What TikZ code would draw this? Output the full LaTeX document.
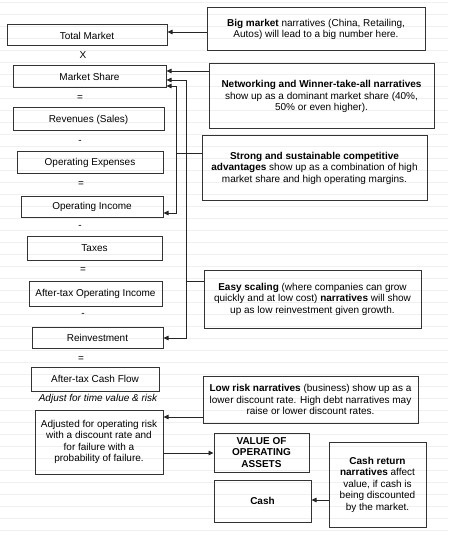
\documentclass[tikz,border=0pt]{standalone}
\usepackage{fontspec}
\setmainfont{Liberation Sans}
\usetikzlibrary{arrows.meta}
\begin{document}
\begin{tikzpicture}[x=1pt,y=-1pt,
  box/.style={draw=black!80, line width=1pt, inner sep=0pt, align=center, font=\fontsize{10}{11.5}\selectfont},
  op/.style={font=\fontsize{10}{11.5}\selectfont, inner sep=0pt},
  ln/.style={draw=black!85, line width=0.8pt},
  arr/.style={ln, -{Triangle[length=5pt,width=4.5pt]}}]
\useasboundingbox (0,0) rectangle (448,540);
\fill[white] (0,0) rectangle (448,540);
\foreach \k in {0,...,44} \draw[black!6, line width=1pt] (0,{2.5+12*\k}) -- (448,{2.5+12*\k});
% left column
\node[box, minimum width=160, minimum height=21] (tm) at (87,35.5) {Total Market};
\node[op] (o1) at (83,55) {X};
\node[box, minimum width=153, minimum height=22] (ms) at (89.5,77) {Market Share};
\node[op] (o2) at (80,98) {=};
\node[box, minimum width=151, minimum height=23] (rev) at (88.5,119.5) {Revenues (Sales)};
\node[op] (o3) at (80,142) {-};
\node[box, minimum width=146, minimum height=21] (opex) at (90,162.5) {Operating Expenses};
\node[op] (o4) at (81,184) {=};
\node[box, minimum width=142, minimum height=21] (oi) at (92,206.5) {Operating Income};
\node[op] (o5) at (80,227) {-};
\node[box, minimum width=135, minimum height=24] (tax) at (94.5,248) {Taxes};
\node[op] (o6) at (83,270) {=};
\node[box, minimum width=133, minimum height=25] (atoi) at (95.5,293.5) {After-tax Operating Income};
\node[op] (o7) at (83,315) {-};
\node[box, minimum width=131, minimum height=21] (reinv) at (97.5,337.5) {Reinvestment};
\node[op] (o8) at (81,359) {=};
\node[box, minimum width=128, minimum height=24] (atcf) at (95,379) {After-tax Cash Flow};
\node[op, font=\fontsize{10}{11.5}\selectfont\itshape] (adjl) at (98,399) {Adjust for time value \& risk};
\node[box, minimum width=128, minimum height=64] (adj) at (99,442) {Adjusted for operating risk\\with a discount rate and\\for failure with a\\probability of failure.};
% right column
\node[box, minimum width=218, minimum height=43] (big) at (316,29.5) {\textbf{Big market} narratives (China, Retailing,\\Autos) will lead to a big number here.};
\node[box, minimum width=225, minimum height=65] (net) at (321.5,96.5) {\textbf{Networking and Winner-take-all narratives}\\show up as a dominant market share (40\%,\\50\% or even higher).};
\node[box, minimum width=225, minimum height=64] (strong) at (314.5,168) {\textbf{Strong and sustainable competitive}\\\textbf{advantages} show up as a combination of high\\market share and high operating margins.};
\node[box, minimum width=217, minimum height=58] (easy) at (312.5,299) {\textbf{Easy scaling} (where companies can grow\\quickly and at low cost) \textbf{narratives} will show\\up as low reinvestment given growth.};
\node[box, minimum width=215, minimum height=47] (low) at (310.5,399.5) {\textbf{Low risk narratives} (business) show up as a\\lower discount rate. High debt narratives may\\raise or lower discount rates.};
\node[box, minimum width=95, minimum height=39, font=\fontsize{10}{11.5}\selectfont\bfseries] (voa) at (261.5,452.5) {VALUE OF\\OPERATING\\ASSETS};
\node[box, minimum width=97, minimum height=42, font=\fontsize{10}{11.5}\selectfont\bfseries] (cash) at (262.5,501) {Cash};
\node[box, minimum width=97, minimum height=85] (cr) at (377.5,484.5) {\textbf{Cash return}\\\textbf{narratives} affect\\value, if cash is\\being discounted\\by the market.};
% connectors
\draw[arr] (big.west |- 0,32) -- (tm.east |- 0,32);
\draw[arr] (net.west |- 0,71) -- (ms.east |- 0,71);
\coordinate (sj) at (176,153);
\draw[ln] (strong.west |- sj) -- (sj);
\draw[arr] (sj) |- (ms.east |- 0,86);
\draw[arr] (sj) |- (oi.east |- 0,213);
\coordinate (ej) at (186,281);
\draw[ln] (easy.west |- ej) -- (ej);
\draw[arr] (ej) |- (ms.east |- 0,80);
\draw[arr] (ej) |- (reinv.east |- 0,338);
\draw[arr] (low.west |- 0,417) -- (adj.east |- 0,417);
\draw[arr] (adj.east |- 0,453) -- (voa.west |- 0,453);
\draw[arr] (cr.west |- 0,500) -- (cash.east |- 0,500);
\end{tikzpicture}
\end{document}
